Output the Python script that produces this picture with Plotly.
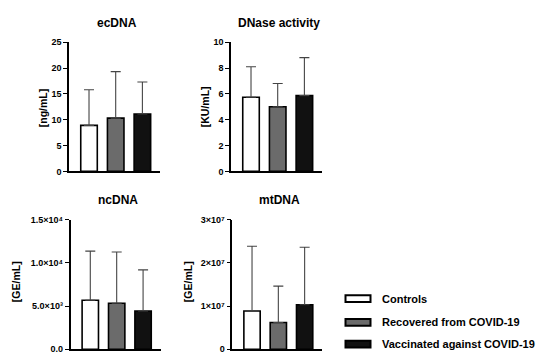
import plotly.graph_objects as go

groups = ["Controls", "Recovered from COVID-19", "Vaccinated against COVID-19"]
bar_colors = ["#ffffff", "#6b6b6b", "#111111"]

ecdna_mean = [8.9, 10.3, 11.1]
ecdna_sd = [6.9, 9.0, 6.2]
dnase_mean = [5.74, 5.0, 5.86]
dnase_sd = [2.36, 1.8, 2.94]
ncdna_mean = [5660, 5320, 4420]
ncdna_sd = [5700, 5930, 4770]
mtdna_mean = [8.85e6, 6.2e6, 1.03e7]
mtdna_sd = [1.5e7, 8.4e6, 1.33e7]

panel_titles = ["ecDNA", "DNase activity", "ncDNA", "mtDNA"]
unit_titles = ["[ng/mL]", "[KU/mL]", "[GE/mL]", "[GE/mL]"]

ecdna_ticks = [0, 5, 10, 15, 20, 25]
ecdna_ticktext = ["0", "5", "10", "15", "20", "25"]
dnase_ticks = [0, 2, 4, 6, 8, 10]
dnase_ticktext = ["0", "2", "4", "6", "8", "10"]
ncdna_ticks = [0, 5000, 10000, 15000]
ncdna_ticktext = ["0.0", "5.0×10³", "1.0×10⁴", "1.5×10⁴"]
mtdna_ticks = [0, 1e7, 2e7, 3e7]
mtdna_ticktext = ["0", "1×10⁷", "2×10⁷", "3×10⁷"]

W, H = 550, 353
def px(x):
    return x / W
def py(y):
    return 1 - y / H

FONT = "Liberation Sans, Arial, Helvetica, sans-serif"

panels = [
    (ecdna_mean, ecdna_sd, ecdna_ticks, ecdna_ticktext, [0, 25], (61, 152), (30, 163)),
    (dnase_mean, dnase_sd, dnase_ticks, dnase_ticktext, [0, 10], (223, 314), (30, 163)),
    (ncdna_mean, ncdna_sd, ncdna_ticks, ncdna_ticktext, [0, 15000], (62.5, 152.5), (212.7, 346)),
    (mtdna_mean, mtdna_sd, mtdna_ticks, mtdna_ticktext, [0, 3e7], (224.3, 314), (212.7, 346)),
]

fig = go.Figure()
layout = {}
annotations = []
for i, (mean, sd, tv, tt, yr, (x0, x1), (y0, y1)) in enumerate(panels):
    n = "" if i == 0 else str(i + 1)
    fig.add_trace(go.Bar(
        x=[0, 1, 2], y=mean,
        xaxis="x" + n, yaxis="y" + n,
        width=0.62,
        textposition="none",
        marker=dict(color=bar_colors, line=dict(color="#000000", width=1.6)),
        error_y=dict(type="data", array=sd, arrayminus=[0, 0, 0], symmetric=False,
                     color="#444444", thickness=1.1, width=5),
        showlegend=False,
        hoverinfo="skip",
    ))
    layout["xaxis" + n] = dict(
        domain=[px(x0), px(x1)], anchor="y" + n, range=[-0.75, 2.66],
        tickmode="array", tickvals=[], ticktext=[],
        showticklabels=False, ticks="", showgrid=False, zeroline=False,
        showline=True, linecolor="#000000", linewidth=1.6, fixedrange=True,
    )
    layout["yaxis" + n] = dict(
        domain=[py(y1), py(y0)], anchor="x" + n, range=yr,
        tickmode="array", tickvals=tv, ticktext=tt,
        ticks="outside", ticklen=4, tickwidth=1.4,
        tickcolor="#000000", showgrid=False, zeroline=False,
        showline=True, linecolor="#000000", linewidth=1.6,
        tickfont=dict(family=FONT, size=9, color="#000000", weight=700),
        fixedrange=True,
    )
    annotations.append(dict(
        text=panel_titles[i], xref="paper", yref="paper",
        x=px((x0 + x1) / 2 + 2), y=py(y0 - 20), showarrow=False,
        xanchor="center", yanchor="middle",
        font=dict(family=FONT, size=12, color="#000000", weight=700),
    ))

# axis titles
unit_pos = [(35, 97), (197, 97), (8, 277), (180, 277)]
for i, (ux, uy) in enumerate(unit_pos):
    annotations.append(dict(
        text=unit_titles[i], xref="paper", yref="paper",
        x=px(ux), y=py(uy), showarrow=False, textangle=-90,
        xanchor="center", yanchor="middle",
        font=dict(family=FONT, size=10.5, color="#000000", weight=700),
    ))

# legend (manual)
shapes = []
legend_rows = [294, 318.3, 340.7]
for g, c, ry in zip(groups, bar_colors, legend_rows):
    shapes.append(dict(
        type="rect", xref="paper", yref="paper",
        x0=px(337.5), x1=px(362.5), y0=py(ry + 3.5), y1=py(ry - 3.5),
        fillcolor=c, line=dict(color="#000000", width=2),
    ))
    annotations.append(dict(
        text=g, xref="paper", yref="paper",
        x=px(372), y=py(ry), showarrow=False, xanchor="left", yanchor="middle",
        font=dict(family=FONT, size=11, color="#000000", weight=700),
    ))

fig.update_layout(
    **layout,
    annotations=annotations,
    shapes=shapes,
    width=W, height=H,
    margin=dict(l=0, r=0, t=0, b=0),
    paper_bgcolor="#ffffff", plot_bgcolor="#ffffff",
    bargap=0.38,
)

fig.write_html("out.html", config={"displayModeBar": False})
